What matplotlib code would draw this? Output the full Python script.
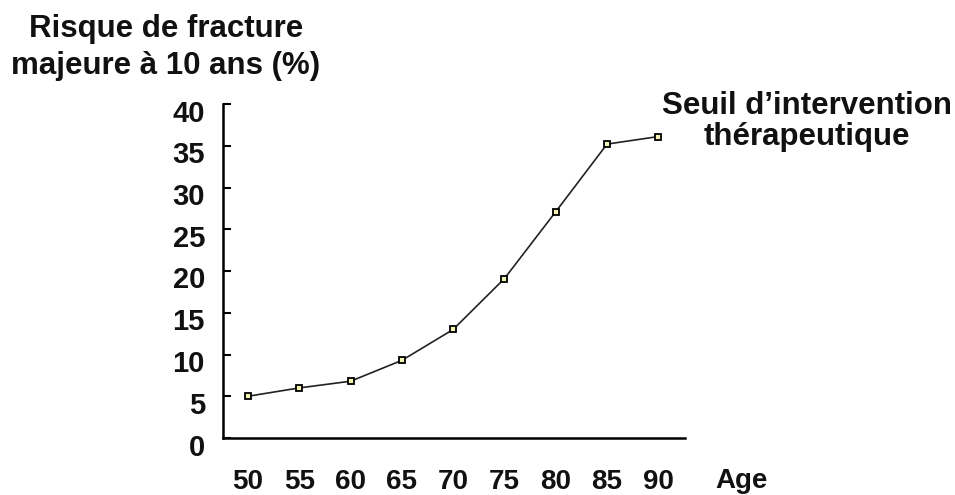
import matplotlib
matplotlib.use('Agg')
import matplotlib.pyplot as plt
import matplotlib.transforms as mtransforms
import numpy as np

# données
ages = [50, 55, 60, 65, 70, 75, 80, 85, 90]
risque = [5.0, 6.0, 6.8, 9.3, 13.0, 19.1, 27.1, 35.2, 36.1]
yticks = [0, 5, 10, 15, 20, 25, 30, 35, 40]

plt.rcParams['font.family'] = ['Liberation Sans', 'DejaVu Sans']
plt.rcParams['font.weight'] = 'bold'

W, H = 955, 495
fig = plt.figure(figsize=(W / 100, H / 100), dpi=100)
ax = fig.add_axes([223 / W, 1 - 438 / H, (685 - 223) / W, (438 - 104) / H])

ax.plot(ages, risque, color='#222222', lw=1.2, marker='s', markersize=5,
        markerfacecolor='#f4f4b0', markeredgecolor='black', markeredgewidth=1.3)

ax.set_xlim(47.56, 92.6)
ax.set_ylim(0, 40)
ax.set_xticks(ages)
ax.set_yticks(yticks)
ax.tick_params(axis='x', length=0, pad=22, labelsize=20, labelcolor='#111111')
ax.tick_params(axis='y', direction='in', length=6, width=1.5, pad=13, labelsize=21,
               labelcolor='#111111')
for lab in ax.get_xticklabels() + ax.get_yticklabels():
    lab.set_fontweight('bold')
# les étiquettes de l'axe y sont un peu plus basses que les graduations
off = mtransforms.ScaledTranslation(0, -6.5 / 100, fig.dpi_scale_trans)
for lab in ax.get_yticklabels():
    lab.set_transform(lab.get_transform() + off)

for s in ['top', 'right']:
    ax.spines[s].set_visible(False)
ax.spines['left'].set_linewidth(1.8)
ax.spines['bottom'].set_linewidth(1.8)

fig.text(166 / W, 1 - 14 / H, 'Risque de fracture\nmajeure à 10 ans (%)', ha='center', va='top',
         fontsize=22.5, fontweight='bold', linespacing=1.3, color='#111111')
fig.text(807 / W, 1 - 91 / H, 'Seuil d\u2019intervention\nthérapeutique', ha='center', va='top',
         fontsize=22.5, fontweight='bold', linespacing=1.05, color='#111111')
fig.text(715 / W, 1 - 481 / H, 'Age', ha='left', va='center', fontsize=20, fontweight='bold',
         color='#111111')

fig.savefig('out.png', dpi=100)
